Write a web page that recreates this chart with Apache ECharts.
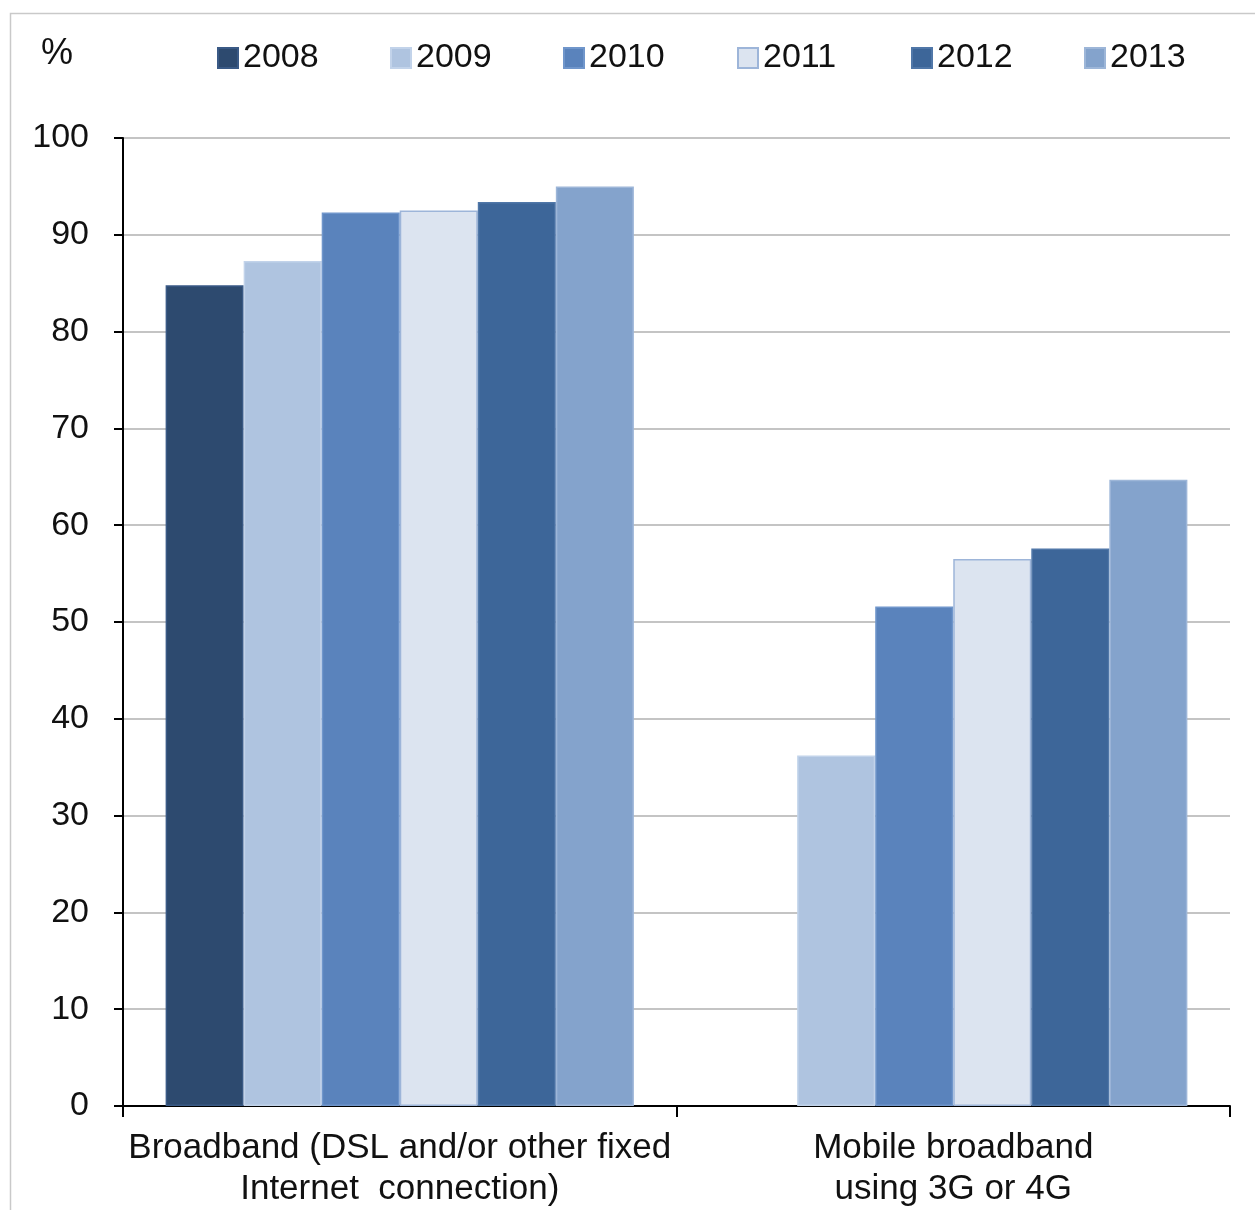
<!DOCTYPE html>
<html>
<head>
<meta charset="utf-8">
<script src="https://cdn.jsdelivr.net/npm/echarts@6/dist/echarts.min.js"></script>
<style>
  html, body { margin: 0; padding: 0; background: #fff; }
  #chart { width: 1255px; height: 1210px; }
</style>
</head>
<body>
<div id="chart"></div>
<script>
// Household connection types, share of households (%)
const categories = [
  'Broadband (DSL and/or other fixed\nInternet  connection)',
  'Mobile broadband\nusing 3G or 4G'
];
const years = ['2008', '2009', '2010', '2011', '2012', '2013'];
const values2008 = [84.8, null];
const values2009 = [87.3, 36.2];
const values2010 = [92.3, 51.6];
const values2011 = [92.5, 56.5];
const values2012 = [93.4, 57.6];
const values2013 = [95.0, 64.7];
const yTicks = [0, 10, 20, 30, 40, 50, 60, 70, 80, 90, 100];

const seriesValues = [values2008, values2009, values2010, values2011, values2012, values2013];
const fills   = ['#2D4A6F', '#AFC4E0', '#5A83BC', '#DCE4F0', '#3D6699', '#84A3CC'];
const borders = ['#3A5A86', '#C2D3EA', '#7096CB', '#9DB5D9', '#5077A8', '#9DB6D8'];
const legendLeft = [212, 385, 558, 732, 906, 1079];

const FONT = "'Liberation Sans Narrow', 'Arial Narrow', 'Liberation Sans', Arial, sans-serif";
const textBase = { fontFamily: FONT, fontSize: 34, color: '#111' };

const chart = echarts.init(document.getElementById('chart'), null, { renderer: 'canvas' });

const option = {
  backgroundColor: '#fff',
  animation: false,
  graphic: [
    {
      type: 'rect',
      left: 8, top: 11,
      shape: { x: 0, y: 0, width: 1270, height: 1230 },
      style: { fill: 'none', stroke: '#C9C9C9', lineWidth: 1.5 },
      z: -1
    },
    {
      type: 'text',
      left: 41, top: 36,
      style: { text: '%', font: '36px ' + FONT, fill: '#111' }
    }
  ],
  legend: years.map((y, i) => ({
    data: [y],
    left: legendLeft[i],
    top: 36,
    itemWidth: 20,
    itemHeight: 20,
    itemGap: 0,
    icon: 'rect',
    selectedMode: false,
    textStyle: Object.assign({}, textBase)
  })),
  grid: { left: 123, right: 25, top: 138, bottom: 101, containLabel: false },
  xAxis: {
    type: 'category',
    data: categories,
    axisLine: { lineStyle: { color: '#000', width: 2 } },
    axisTick: { show: true, length: 11, lineStyle: { color: '#000', width: 2 } },
    axisLabel: Object.assign({}, textBase, { fontSize: 35, margin: 22, lineHeight: 41, interval: 0 }),
    splitLine: { show: false }
  },
  yAxis: {
    type: 'value',
    min: yTicks[0],
    max: yTicks[yTicks.length - 1],
    interval: yTicks[1] - yTicks[0],
    axisLine: { show: true, lineStyle: { color: '#000', width: 2 } },
    axisTick: { show: true, length: 9, lineStyle: { color: '#000', width: 2 } },
    axisLabel: Object.assign({}, textBase, { margin: 34 }),
    splitLine: { show: true, lineStyle: { color: '#C4C4C4', width: 2 } }
  },
  series: years.map((y, i) => ({
    name: y,
    type: 'bar',
    data: seriesValues[i],
    barGap: '0%',
    barCategoryGap: '15.4%',
    itemStyle: { color: fills[i], borderColor: borders[i], borderWidth: 1.5 }
  }))
};

chart.setOption(option);
</script>
</body>
</html>
